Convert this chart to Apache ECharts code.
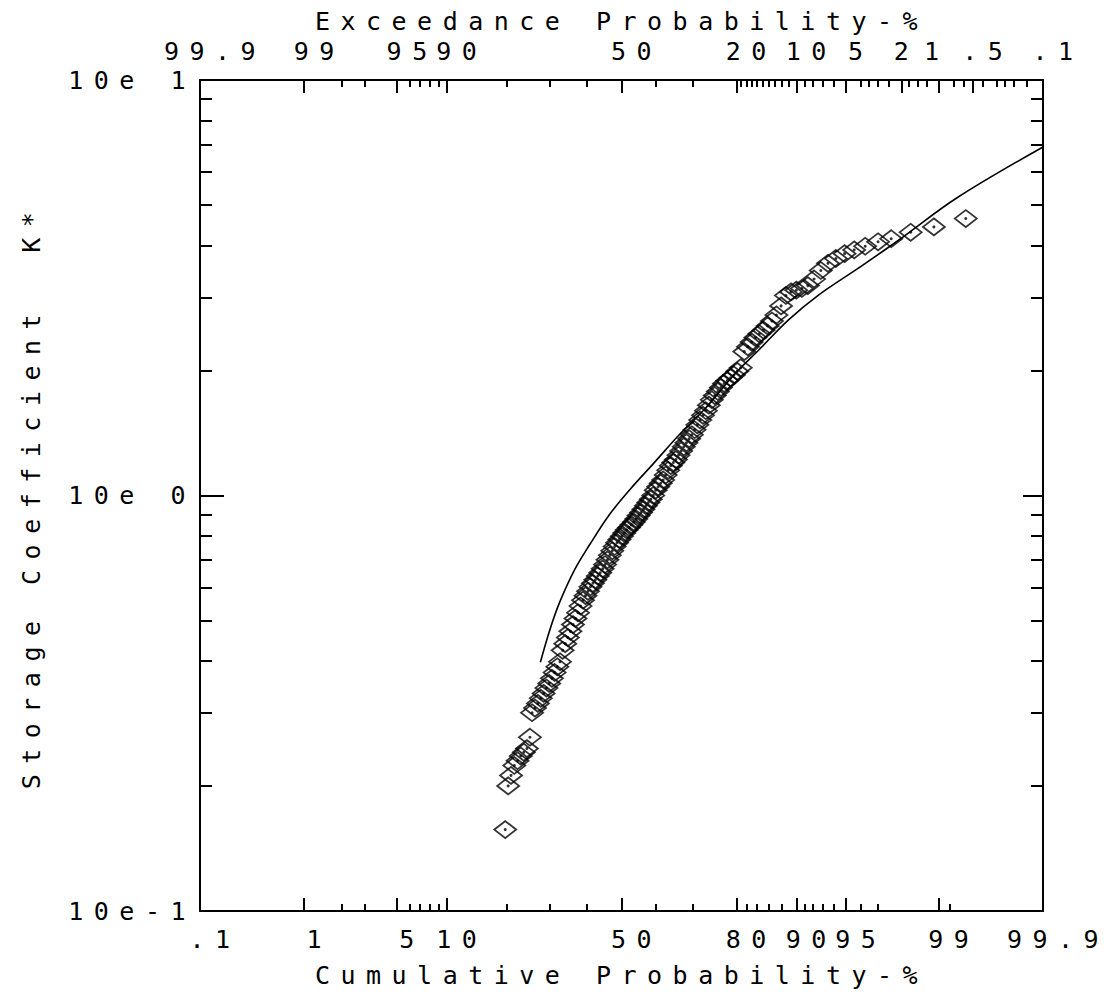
<!DOCTYPE html>
<html>
<head>
<meta charset="utf-8">
<title>Storage Coefficient K* - probability plot</title>
<script src="https://cdn.jsdelivr.net/npm/echarts@6/dist/echarts.min.js"></script>
<style>
  html, body { margin: 0; padding: 0; background: #fff; }
  #chart { width: 1119px; height: 1000px; }
  /* plotter lettering is widely spaced */
  #chart text { letter-spacing: 10.5px; white-space: pre; }
</style>
</head>
<body>
<div id="chart"></div>
<script>
// plotted values: cumulative probability (%) and storage coefficient K*
const cumProb = [
  19.7, 20.3, 20.9, 21.6, 22.3, 23.0, 23.7, 24.4, 25.1, 25.6,
  26.3, 27.0, 27.7, 28.4, 29.1, 29.8, 30.5, 31.2, 31.9, 32.6,
  33.3, 34.0, 34.7, 35.4, 36.1, 36.8, 37.5, 38.2, 38.9, 39.6,
  40.3, 41.0, 41.7, 42.4, 43.1, 43.8, 44.5, 45.2, 45.9, 46.6,
  47.3, 48.0, 48.7, 49.4, 50.1, 50.8, 51.5, 52.2, 52.9, 53.6,
  54.3, 55.0, 55.7, 56.4, 57.1, 57.8, 58.5, 59.2, 59.9, 60.6,
  61.3, 62.0, 62.7, 63.4, 64.1, 64.8, 65.5, 66.2, 66.9, 67.6,
  68.3, 69.0, 69.7, 70.4, 71.1, 71.8, 72.5, 73.2, 73.9, 74.6,
  75.3, 76.0, 76.7, 77.4, 78.1, 78.8, 79.5, 80.2, 80.9, 81.6,
  82.3, 83.0, 83.7, 84.4, 85.1, 85.8, 86.5, 87.2, 87.9, 88.6,
  89.3, 90.0, 90.7, 91.4, 92.1, 92.8, 93.5, 94.2, 94.9, 95.6,
  96.3, 97.0, 97.6, 98.3, 98.9, 99.42
];
const storageK = [
  0.157, 0.200, 0.212, 0.224, 0.230, 0.236, 0.241, 0.246, 0.262, 0.300,
  0.308, 0.316, 0.325, 0.334, 0.344, 0.353, 0.363, 0.375, 0.387, 0.398,
  0.424, 0.440, 0.455, 0.471, 0.489, 0.506, 0.522, 0.542, 0.560, 0.574,
  0.588, 0.603, 0.615, 0.627, 0.640, 0.652, 0.666, 0.682, 0.700, 0.718,
  0.736, 0.754, 0.770, 0.784, 0.798, 0.812, 0.826, 0.838, 0.850, 0.863,
  0.878, 0.895, 0.910, 0.926, 0.945, 0.962, 0.980, 1.00, 1.03, 1.05,
  1.07, 1.09, 1.12, 1.15, 1.18, 1.20, 1.22, 1.25, 1.28, 1.31,
  1.34, 1.37, 1.40, 1.44, 1.48, 1.52, 1.56, 1.60, 1.65, 1.70,
  1.74, 1.78, 1.82, 1.86, 1.89, 1.92, 1.95, 1.99, 2.03, 2.22,
  2.28, 2.34, 2.40, 2.45, 2.50, 2.56, 2.63, 2.72, 2.86, 3.03,
  3.09, 3.12, 3.15, 3.20, 3.32, 3.48, 3.62, 3.72, 3.82, 3.90,
  3.98, 4.08, 4.15, 4.30, 4.43, 4.64
];

// fitted distribution curve
const fitProb = [27.6, 30.0, 32.5, 36.6, 40.8, 46.5, 52.3, 59.5, 66.4, 72.8, 79.5, 84.3, 89.0, 92.6, 95.9, 97.9, 99.3, 99.9];
const fitK = [0.397, 0.476, 0.553, 0.664, 0.762, 0.900, 1.03, 1.20, 1.40, 1.61, 1.95, 2.24, 2.65, 3.04, 3.53, 4.12, 5.20, 6.90];

// probability axis ticks, in cumulative %
const bottomMajor = [0.1, 1, 5, 10, 50, 80, 90, 95, 99, 99.9];
const bottomLabels = ['.1', '1', '5', '10', '50', '80', '90', '95', '99', '99.9'];
const bottomMinor = [2, 3, 6, 7, 8, 9, 20, 30, 40, 60, 70, 82, 84, 86, 88, 91, 92, 93, 94, 96, 97, 99.2];
// top axis is exceedance % (100 - cumulative)
const topMajor = [0.1, 1, 5, 10, 50, 80, 90, 95, 98, 99, 99.5, 99.9];
const topLabels = ['99.9', '99', '95', '90', '50', '20', '10', '5', '2', '1', '.5', '.1'];
const topMinor = [2, 3, 6, 7, 8, 9, 20, 30, 40, 60, 70, 81, 82, 83, 84, 85, 86, 87, 88, 89,
  91, 92, 93, 94, 96, 96.5, 97, 97.5, 98.25, 98.5, 98.75, 99.25, 99.4, 99.6, 99.7, 99.75, 99.8, 99.85];

// log axis ticks
const yLabels = ['10e-1', '10e 0', '10e 1'];
const yMinor = [0.2, 0.3, 0.4, 0.5, 0.6, 0.7, 0.8, 0.9, 2, 3, 4, 5, 6, 7, 8, 9];

// inverse normal cdf (Acklam) -> normal probability paper scale
function normInv (p) {
  const a = [-3.969683028665376e+01, 2.209460984245205e+02, -2.759285104469687e+02, 1.383577518672690e+02, -3.066479806614716e+01, 2.506628277459239e+00];
  const b = [-5.447609879822406e+01, 1.615858368580409e+02, -1.556989798598866e+02, 6.680131188771972e+01, -1.328068155288572e+01];
  const c = [-7.784894002430293e-03, -3.223964580411365e-01, -2.400758277161838e+00, -2.549732539343734e+00, 4.374664141464968e+00, 2.938163982698783e+00];
  const d = [7.784695709041462e-03, 3.224671290700398e-01, 2.445134137142996e+00, 3.754408661907416e+00];
  const pl = 0.02425
  let q, r
  if (p < pl) {
    q = Math.sqrt(-2 * Math.log(p))
    return (((((c[0] * q + c[1]) * q + c[2]) * q + c[3]) * q + c[4]) * q + c[5]) / ((((d[0] * q + d[1]) * q + d[2]) * q + d[3]) * q + 1)
  }
  if (p <= 1 - pl) {
    q = p - 0.5
    r = q * q
    return (((((a[0] * r + a[1]) * r + a[2]) * r + a[3]) * r + a[4]) * r + a[5]) * q / (((((b[0] * r + b[1]) * r + b[2]) * r + b[3]) * r + b[4]) * r + 1)
  }
  q = Math.sqrt(-2 * Math.log(1 - p))
  return -(((((c[0] * q + c[1]) * q + c[2]) * q + c[3]) * q + c[4]) * q + c[5]) / ((((d[0] * q + d[1]) * q + d[2]) * q + d[3]) * q + 1)
}
const toZ = p => normInv(p / 100)
const zMin = toZ(0.1)
const zMax = toZ(99.9)

function labelIndex (z, majors) {
  let best = 0
  majors.forEach((p, i) => {
    if (Math.abs(toZ(p) - z) < Math.abs(toZ(majors[best]) - z)) best = i
  })
  return best
}

const ink = '#000'
const font = 'DejaVu Sans Mono'
const line = { color: ink, width: 2 }
const textStyle = { fontFamily: font, fontSize: 25, color: ink }
// the "2" and "1" exceedance labels sit nearer their ticks
const shiftRich = {
  s2: { ...textStyle, padding: [0, 20, 0, 0] },
  s1: { ...textStyle, padding: [0, 34, 0, 0] }
}

const xBase = { type: 'value', min: zMin, max: zMax, splitLine: { show: false } }
const yLog = { type: 'log', logBase: 10, min: 0.1, max: 10, splitLine: { show: false } }
const yLin = { type: 'value', min: -1, max: 1, splitLine: { show: false } }

const chart = echarts.init(document.getElementById('chart'), null, { renderer: 'svg' })
chart.setOption({
  animation: false,
  backgroundColor: '#fff',
  grid: { left: 200, right: 76, top: 80, bottom: 89, containLabel: false, outerBoundsMode: 'none' },
  xAxis: [
    {
      ...xBase,
      position: 'bottom',
      name: 'Cumulative Probability-%',
      nameLocation: 'middle',
      nameGap: 52,
      nameTextStyle: textStyle,
      axisLine: { show: true, onZero: false, lineStyle: line },
      axisTick: { inside: true, length: 13, lineStyle: line, customValues: bottomMajor.map(toZ) },
      axisLabel: {
        ...textStyle,
        customValues: bottomMajor.map(toZ),
        formatter: v => bottomLabels[labelIndex(v, bottomMajor)],
        margin: 16,
        padding: [0, 0, 0, 30]
      }
    },
    {
      ...xBase,
      position: 'bottom',
      axisLine: { show: false, onZero: false },
      axisTick: { inside: true, length: 7, lineStyle: line, customValues: bottomMinor.map(toZ) },
      axisLabel: { show: false }
    },
    {
      ...xBase,
      position: 'top',
      name: 'Exceedance Probability-%',
      nameLocation: 'middle',
      nameGap: 44,
      nameTextStyle: textStyle,
      axisLine: { show: true, onZero: false, lineStyle: line },
      axisTick: { inside: true, length: 13, lineStyle: line, customValues: topMajor.map(toZ) },
      axisLabel: {
        ...textStyle,
        customValues: topMajor.map(toZ),
        formatter: v => {
          const t = topLabels[labelIndex(v, topMajor)]
          if (t === '2') return '{s2|2}'
          if (t === '1') return '{s1|1}'
          return t
        },
        rich: shiftRich,
        margin: 16,
        padding: [0, 0, 0, 30]
      }
    },
    {
      ...xBase,
      position: 'top',
      axisLine: { show: false, onZero: false },
      axisTick: { inside: true, length: 7, lineStyle: line, customValues: topMinor.map(toZ) },
      axisLabel: { show: false }
    }
  ],
  yAxis: [
    {
      ...yLog,
      position: 'left',
      name: 'Storage Coefficient  K*',
      nameLocation: 'middle',
      nameGap: 156,
      nameTextStyle: textStyle,
      axisLine: { show: true, onZero: false, lineStyle: line },
      axisTick: { inside: true, length: 24, lineStyle: line },
      axisLabel: {
        ...textStyle,
        formatter: v => yLabels[Math.round(Math.log10(v)) + 1],
        margin: 4
      }
    },
    {
      ...yLog,
      position: 'right',
      axisLine: { show: true, onZero: false, lineStyle: line },
      axisTick: { inside: true, length: 20, lineStyle: line },
      axisLabel: { show: false }
    },
    {
      ...yLin,
      position: 'left',
      axisLine: { show: false, onZero: false },
      axisTick: { inside: true, length: 12, lineStyle: line, customValues: yMinor.map(Math.log10) },
      axisLabel: { show: false }
    },
    {
      ...yLin,
      position: 'right',
      axisLine: { show: false, onZero: false },
      axisTick: { inside: true, length: 12, lineStyle: line, customValues: yMinor.map(Math.log10) },
      axisLabel: { show: false }
    }
  ],
  series: [
    {
      name: 'fit',
      type: 'line',
      xAxisIndex: 0,
      yAxisIndex: 0,
      data: fitProb.map((p, i) => [toZ(p), fitK[i]]),
      showSymbol: false,
      smooth: 0.35,
      lineStyle: { color: ink, width: 1.6 }
    },
    {
      name: 'K*',
      type: 'scatter',
      xAxisIndex: 0,
      yAxisIndex: 0,
      data: cumProb.map((p, i) => [toZ(p), storageK[i]]),
      symbol: 'diamond',
      symbolSize: [22, 17],
      itemStyle: { color: 'rgba(0,0,0,0)', borderColor: ink, borderWidth: 1.8 }
    },
    {
      name: 'K* centre',
      type: 'scatter',
      xAxisIndex: 0,
      yAxisIndex: 0,
      data: cumProb.map((p, i) => [toZ(p), storageK[i]]),
      symbol: 'circle',
      symbolSize: 3,
      itemStyle: { color: ink }
    }
  ]
})
</script>
</body>
</html>
